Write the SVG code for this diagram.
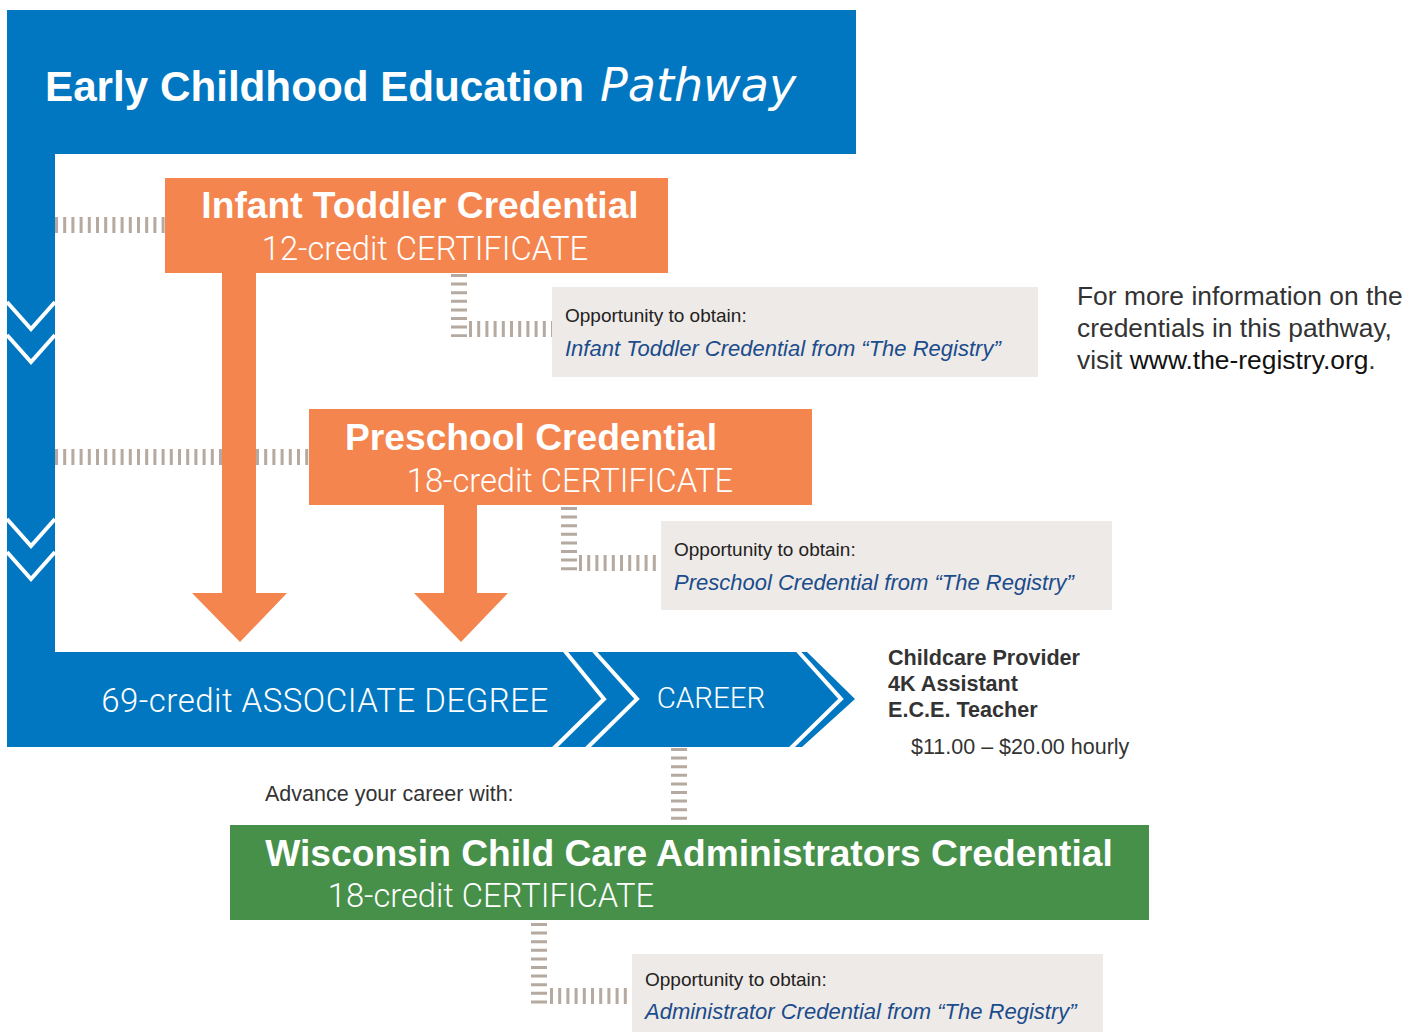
<svg xmlns="http://www.w3.org/2000/svg" width="1420" height="1032" viewBox="0 0 1420 1032">
<style>
.blue{fill:#0277C1}
.orange{fill:#F4854E}
.green{fill:#47904A}
.note{fill:#EEEAE7}
.dh{stroke:#B5A9A0;stroke-width:16;stroke-dasharray:3 5.2;fill:none}
.dv{stroke:#B5A9A0;stroke-width:16;stroke-dasharray:3 5.6;fill:none}
.chev{stroke:#fff;stroke-width:4;fill:none}
.bold{font-family:"Liberation Sans",Arial,sans-serif;font-weight:bold;fill:#fff}
.light{font-family:Roboto,"Liberation Sans",sans-serif;font-weight:300;fill:#fff}
.opp{font-family:"Liberation Sans",Arial,sans-serif;font-size:19px;fill:#222}
.link{font-family:"Liberation Sans",Arial,sans-serif;font-size:22px;font-style:italic;fill:#1B4C8C}
.info{font-family:"Liberation Sans",Arial,sans-serif;fill:#333}
</style>
<rect width="1420" height="1032" fill="#fff"/>

<g id="title">
<rect class="blue" x="7" y="10" width="849" height="144"/>
<text x="45" y="101" class="bold" font-size="42.2">Early Childhood Education</text>
<text x="600" y="101" font-family="'DejaVu Sans',sans-serif" font-style="italic" font-size="46" fill="#fff">Pathway</text>
</g>

<g id="pathway-bar">
<rect class="blue" x="7" y="152" width="48" height="502"/>
<polyline class="chev" points="7,302 31,329 55,302"/>
<polyline class="chev" points="7,335 31,362 55,335"/>
<polyline class="chev" points="7,519 31,546 55,519"/>
<polyline class="chev" points="7,552 31,579 55,552"/>
</g>

<g id="connectors">
<line class="dh" x1="55" y1="225" x2="165" y2="225"/>
<line class="dh" x1="55" y1="457" x2="222" y2="457"/>
<line class="dh" x1="256" y1="457" x2="309" y2="457"/>
<line class="dv" x1="459" y1="274" x2="459" y2="337"/>
<line class="dh" x1="469" y1="329" x2="552" y2="329"/>
<line class="dv" x1="569" y1="507" x2="569" y2="571"/>
<line class="dh" x1="579" y1="563" x2="661" y2="563"/>
<line class="dv" x1="679" y1="748" x2="679" y2="825"/>
<line class="dv" x1="539" y1="923" x2="539" y2="1004"/>
<line class="dh" x1="550" y1="996" x2="632" y2="996"/>
<polygon class="orange" points="222,273 256,273 256,593 287,593 240,642 192,593 222,593"/>
<polygon class="orange" points="444,505 477,505 477,593 508,593 461,642 414,593 444,593"/>
</g>

<g id="infant-toddler">
<rect class="orange" x="165" y="178" width="503" height="95"/>
<text x="420" y="218" text-anchor="middle" class="bold" font-size="37.2">Infant Toddler Credential</text>
<text x="425" y="260" text-anchor="middle" class="light" font-size="32.7">12-credit CERTIFICATE</text>
</g>

<g id="preschool">
<rect class="orange" x="309" y="409" width="503" height="96"/>
<text x="531" y="450" text-anchor="middle" class="bold" font-size="37.2">Preschool Credential</text>
<text x="570" y="492" text-anchor="middle" class="light" font-size="32.7">18-credit CERTIFICATE</text>
</g>

<g id="opp-infant">
<rect class="note" x="552" y="287" width="486" height="90"/>
<text x="565" y="322" class="opp">Opportunity to obtain:</text>
<text x="565" y="356" class="link">Infant Toddler Credential from “The Registry”</text>
</g>

<g id="opp-preschool">
<rect class="note" x="661" y="521" width="451" height="89"/>
<text x="674" y="556" class="opp">Opportunity to obtain:</text>
<text x="674" y="590" class="link">Preschool Credential from “The Registry”</text>
</g>

<g id="degree-career">
<polygon class="blue" points="7,652 807,652 855,699 802,747 7,747"/>
<polyline class="chev" stroke-width="5" points="564,650 604,699 553,749"/>
<polyline class="chev" stroke-width="5" points="593,650 637,699 586,749"/>
<polyline class="chev" stroke-width="5" points="797,650 841,699 790,749"/>
<text x="325" y="712" text-anchor="middle" class="light" font-size="33" letter-spacing="0.5">69-credit ASSOCIATE DEGREE</text>
<text x="711" y="708" text-anchor="middle" class="light" font-size="29.5">CAREER</text>
</g>

<g id="careers">
<text class="info" font-weight="bold" font-size="21.6" fill="#222"><tspan x="888" y="665">Childcare Provider</tspan><tspan x="888" y="691">4K Assistant</tspan><tspan x="888" y="717">E.C.E. Teacher</tspan></text>
<text x="911" y="754" class="info" font-size="21.5" fill="#222">$11.00 – $20.00 hourly</text>
</g>

<g id="more-info">
<text class="info" font-size="26.4"><tspan x="1077" y="305">For more information on the</tspan><tspan x="1077" y="337">credentials in this pathway,</tspan><tspan x="1077" y="369">visit <tspan fill="#111">www.the-registry.org</tspan>.</tspan></text>
</g>

<text x="265" y="801" class="info" font-size="21.5">Advance your career with:</text>

<g id="administrators">
<rect class="green" x="230" y="825" width="919" height="95"/>
<text x="689" y="866" text-anchor="middle" class="bold" font-size="37.2">Wisconsin Child Care Administrators Credential</text>
<text x="491" y="907" text-anchor="middle" class="light" font-size="32.7">18-credit CERTIFICATE</text>
</g>

<g id="opp-admin">
<rect class="note" x="632" y="954" width="471" height="78"/>
<text x="645" y="986" class="opp">Opportunity to obtain:</text>
<text x="645" y="1019" class="link">Administrator Credential from “The Registry”</text>
</g>
</svg>
